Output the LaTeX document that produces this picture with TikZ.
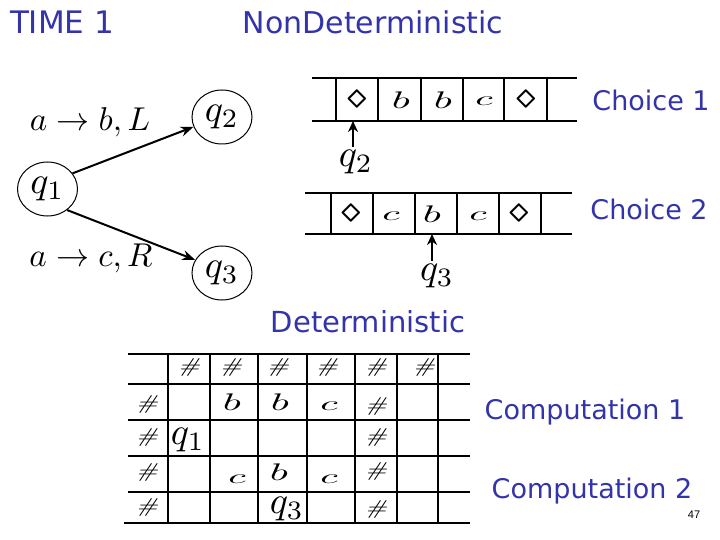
\documentclass[tikz,border=0pt]{standalone}
\usepackage{fontspec}
\usepackage{graphicx}
\usetikzlibrary{arrows.meta,shapes.geometric}
\newfontfamily\comicfont{DejaVu Sans}
\newfontfamily\pgfont{Liberation Sans}
\definecolor{slideblue}{RGB}{51,51,170}
\newcommand{\wb}{\scalebox{4.2}[2.4]{$b$}}
\newcommand{\wc}{\scalebox{4.0}[2.0]{$c$}}
\newcommand{\hs}{\scalebox{2.7}[2.0]{\itshape\#}}
\newcommand{\dm}{\scalebox{3.4}{\boldmath$\diamond$}}
\newcommand{\ml}[1]{\scalebox{3.3}{$#1$}}
\newcommand{\ql}[1]{\scalebox{3.8}{$#1$}}
\tikzset{
  bluetxt/.style={text=slideblue,font=\comicfont\fontsize{27}{30}\selectfont,inner sep=0pt},
  st/.style={ellipse,draw,line width=1pt,minimum width=60pt,minimum height=54pt,inner sep=0pt},
  mlab/.style={inner sep=0pt,anchor=base},
  qlab/.style={inner sep=0pt},
  tapeline/.style={line width=1.5pt},
  sym/.style={inner sep=0pt},
  arr/.style={line width=2pt,-{Stealth[length=13pt,width=10pt]}},
  harr/.style={line width=2pt,-{Stealth[length=11pt,width=10pt]}}
}
\begin{document}
\begin{tikzpicture}[x=1pt,y=-1pt]
\useasboundingbox (0,0) rectangle (720,540);
% titles
\node[bluetxt,font=\comicfont\fontsize{31}{32}\selectfont] (time) at (62,22) {TIME 1};
\node[bluetxt,font=\comicfont\fontsize{30}{32}\selectfont] (nondet) at (373,22) {NonDeterministic};
% state diagram
\node[st] (q1) at (47.5,189) {\ql{q_1}};
\node[st] (q2) at (222,117) {\ql{q_2}};
\node[st] (q3) at (222,273) {\ql{q_3}};
\draw[arr] (q1.32) -- (q2.199);
\draw[arr] (q1.313) -- (q3.154);
\node[mlab] (l1) at (90,131) {\ml{a\rightarrow b, L}};
\node[mlab] (l2) at (91,266) {\ml{a\rightarrow c, R}};
% tape 1
\draw[tapeline] (312,78) -- (577,78);
\draw[tapeline] (312,121) -- (577,121);
\foreach \x in {336,378,421,463,504,547} \draw[tapeline] (\x,78) -- (\x,121);
\node[sym] (t11) at (357,99) {\dm};
\node[sym] (t12) at (401,100) {\wb};
\node[sym] (t13) at (443,100) {\wb};
\node[sym] (t14) at (484,101) {\wc};
\node[sym] (t15) at (526,99) {\dm};
\coordinate (h1) at (353,121);
\node[qlab] (hq2) at (356,162) {\ql{q_2}};
\draw[harr] (353,147) -- (h1);
\node[bluetxt] (ch1) at (651,100) {Choice 1};
% tape 2
\draw[tapeline] (305,193) -- (572,193);
\draw[tapeline] (305,234) -- (572,234);
\foreach \x in {331,373,415,457,499,541} \draw[tapeline] (\x,193) -- (\x,234);
\node[sym] (t21) at (351,213) {\dm};
\node[sym] (t22) at (391,216) {\wc};
\node[sym] (t23) at (432,214) {\wb};
\node[sym] (t24) at (478,216) {\wc};
\node[sym] (t25) at (519,213) {\dm};
\coordinate (h2) at (432,234);
\node[qlab] (hq3) at (437,276) {\ql{q_3}};
\draw[harr] (432,261) -- (h2);
\node[bluetxt] (ch2) at (649,209) {Choice 2};
% deterministic
\node[bluetxt,font=\comicfont\fontsize{29}{30}\selectfont] (det) at (368,322) {Deterministic};
\foreach \y in {354,384,420,456,492} \draw[tapeline] (128,\y) -- (470,\y);
\draw[tapeline] (124,523) -- (470,523);
\foreach \x in {168,210,258,307,355,397,438} \draw[tapeline] (\x,354) -- (\x,523);
% row 0
\foreach \x/\n in {189/a,231/b,278/c,327/d,376/e,424/f} \node[sym] (g0\n) at (\x,367) {\hs};
% row 1
\node[sym] (g1a) at (147,404) {\hs};
\node[sym] (g1b) at (232,402) {\wb};
\node[sym] (g1c) at (280,402) {\wb};
\node[sym] (g1d) at (329,406) {\wc};
\node[sym] (g1e) at (376,406) {\hs};
% row 2
\node[sym] (g2a) at (147,437) {\hs};
\node[qlab] (g2b) at (188,440) {\ql{q_1}};
\node[sym] (g2c) at (376,437) {\hs};
% row 3
\node[sym] (g3a) at (147,472) {\hs};
\node[sym] (g3b) at (237,479) {\wc};
\node[sym] (g3c) at (279,472) {\wb};
\node[sym] (g3d) at (329,479) {\wc};
\node[sym] (g3e) at (376,471) {\hs};
% row 4
\node[sym] (g4a) at (147,507) {\hs};
\node[qlab] (g4b) at (287,509) {\ql{q_3}};
\node[sym] (g4c) at (376,509) {\hs};
\node[bluetxt] (cp1) at (585,412) {Computation 1};
\node[bluetxt] (cp2) at (592,491) {Computation 2};
\node[inner sep=0pt,font=\pgfont\fontsize{11}{12}\selectfont] (pg) at (694,515) {47};
\end{tikzpicture}
\end{document}
